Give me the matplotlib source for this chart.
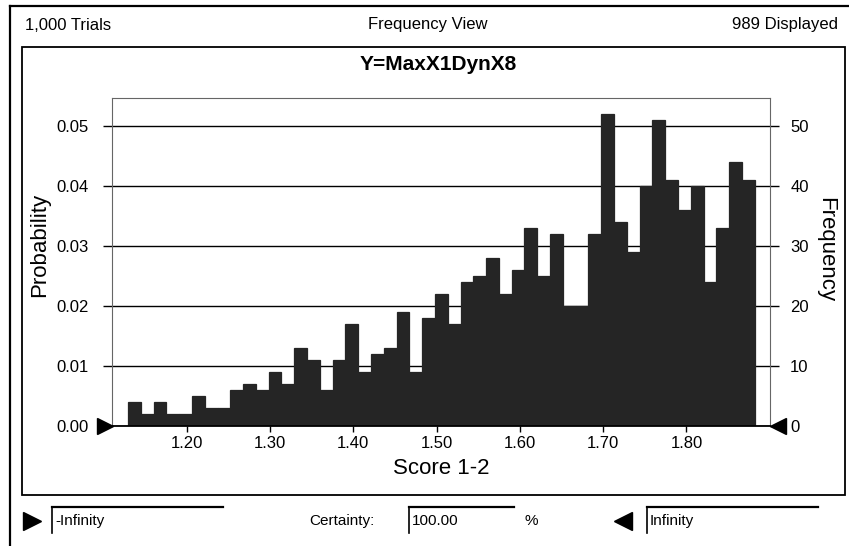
"""
Crystal Ball style frequency chart: Y=MaxX1DynX8 (Score 1-2), 1,000 trials.
"""
import numpy as np
import matplotlib
matplotlib.use("Agg")
import matplotlib.pyplot as plt
from matplotlib.lines import Line2D
from matplotlib.patches import Rectangle

plt.rcParams["font.family"] = ["Liberation Sans", "DejaVu Sans"]

# --- data --------------------------------------------------------------
bin_lo = 1.1296          # left edge of first bin
bin_hi = 1.882           # right edge of last bin
freq = [4, 2, 4, 2, 2, 5, 3, 3, 6, 7, 6, 9, 7, 13, 11, 6, 11, 17, 9, 12,
        13, 19, 9, 18, 22, 17, 24, 25, 28, 22, 26, 33, 25, 32, 20, 20, 32,
        52, 34, 29, 40, 51, 41, 36, 40, 24, 33, 44, 41]
n_trials = 1000
n_displayed = 989

x_ticks = [1.20, 1.30, 1.40, 1.50, 1.60, 1.70, 1.80]
freq_ticks = [0, 10, 20, 30, 40, 50]
prob_ticks = [0.00, 0.01, 0.02, 0.03, 0.04, 0.05]

title = "Y=MaxX1DynX8"
x_label = "Score 1-2"

W, H = 849, 546
BAR = "#252525"


def fx(x):
    return x / W


def fy(y):
    return 1 - y / H


fig = plt.figure(figsize=(W / 100, H / 100), dpi=100)
fig.patch.set_facecolor("white")

# plot area in pixels: x 112..770, y 98..426
ax = fig.add_axes([fx(112), fy(426), (770 - 112) / W, (426 - 98) / H])

edges = np.linspace(bin_lo, bin_hi, len(freq) + 1)
ax.bar(edges[:-1], freq, width=np.diff(edges), align="edge",
       color=BAR, edgecolor=BAR, linewidth=0.9, zorder=2)

ax.set_xlim(1.1104, 1.9004)
ax.set_ylim(0, 54.6)
ax.set_axisbelow(True)

# frequency on the right
ax.yaxis.tick_right()
ax.set_yticks(freq_ticks)
ax.set_yticklabels([str(t) for t in freq_ticks])
ax.tick_params(axis="y", which="both", direction="out", length=6.5,
               width=1, pad=8, labelsize=12, colors="black")
ax.grid(axis="y", color="black", linewidth=1.0)
ax.grid(axis="x", visible=False)

ax.set_xticks(x_ticks)
ax.set_xticklabels([f"{t:.2f}" for t in x_ticks])
ax.tick_params(axis="x", direction="out", length=4, width=1, pad=3.5,
               labelsize=12)

# probability on the left
sec = ax.secondary_yaxis("left", functions=(lambda f: f / n_trials,
                                            lambda p: p * n_trials))
sec.set_yticks(prob_ticks)
sec.set_yticklabels([f"{t:.2f}" for t in prob_ticks])
sec.tick_params(axis="y", direction="out", length=6.5, width=1, pad=10,
                labelsize=12)
sec.spines["left"].set_visible(False)

for side in ["top", "left", "right"]:
    ax.spines[side].set_color("#666666")
    ax.spines[side].set_linewidth(0.8)
    ax.spines[side].set_linestyle((0, (4, 1)))
ax.spines["bottom"].set_color("black")
ax.spines["bottom"].set_linewidth(1.3)

# grabber arrows at the axis ends
ax.plot([-0.010], [0], marker=">", markersize=12, color="black",
        transform=ax.transAxes, clip_on=False, zorder=5)
ax.plot([1.012], [0], marker="<", markersize=12, color="black",
        transform=ax.transAxes, clip_on=False, zorder=5)

# axis labels
fig.text(fx(441), fy(468), x_label, ha="center", va="center", fontsize=16)
fig.text(fx(40), fy(245), "Probability", rotation=90, ha="center",
         va="center", fontsize=16)
fig.text(fx(826), fy(250), "Frequency", rotation=-90, ha="center",
         va="center", fontsize=16)
fig.text(fx(438), fy(64), title, ha="center", va="center", fontsize=15,
         fontweight="bold")

# header
fig.text(fx(25), fy(25), f"{n_trials:,} Trials", ha="left", va="center",
         fontsize=12)
fig.text(fx(428), fy(25), "Frequency View", ha="center", va="center",
         fontsize=12)
fig.text(fx(838), fy(25), f"{n_displayed} Displayed", ha="right",
         va="center", fontsize=12)

# window frame and inner panel
frame = [Line2D([fx(10), fx(10)], [fy(6), fy(546)], color="black", lw=1.6),
         Line2D([fx(10), fx(849)], [fy(6), fy(6)], color="black", lw=1.6)]
for ln in frame:
    fig.add_artist(ln)
fig.add_artist(Rectangle((fx(22), fy(495)), (845 - 22) / W, (495 - 47) / H,
                         transform=fig.transFigure, fill=False,
                         edgecolor="black", linewidth=1.3))


# bottom row: certainty controls
def field(x0, x1, text):
    fig.add_artist(Line2D([fx(x0), fx(x0)], [fy(507), fy(533)],
                          color="black", lw=1.2))
    fig.add_artist(Line2D([fx(x0), fx(x1)], [fy(507), fy(507)],
                          color="black", lw=1.6))
    fig.text(fx(x0 + 3), fy(521), text, ha="left", va="center", fontsize=11)


fig.add_artist(Line2D([fx(32)], [fy(521)], marker=">", markersize=13,
                      color="black", linestyle="none"))
field(52, 223, "-Infinity")
fig.text(fx(375), fy(521), "Certainty:", ha="right", va="center",
         fontsize=11)
field(409, 514, "100.00")
fig.text(fx(531), fy(521), "%", ha="center", va="center", fontsize=11)
fig.add_artist(Line2D([fx(623)], [fy(521)], marker="<", markersize=13,
                      color="black", linestyle="none"))
field(647, 818, "Infinity")

fig.savefig("out.png", dpi=100)
